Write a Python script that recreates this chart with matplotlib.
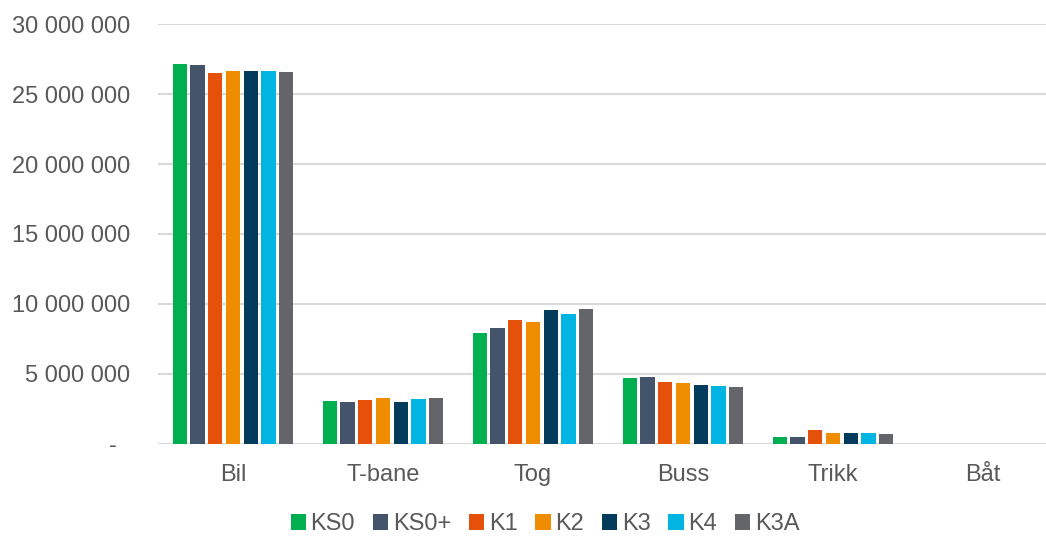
import matplotlib.pyplot as plt
import numpy as np
from matplotlib.ticker import FuncFormatter

plt.rcParams['font.family'] = ['Liberation Sans', 'DejaVu Sans']

categories = ["Bil", "T-bane", "Tog", "Buss", "Trikk", "Båt"]
scenarios = ["KS0", "KS0+", "K1", "K2", "K3", "K4", "K3A"]
colors = ["#00AF50", "#44546A", "#E5500A", "#F08C00", "#033B5C", "#00B5E2", "#63656A"]

ks0 = [27150000, 3030000, 7900000, 4720000, 470000, 0]
ks0p = [27100000, 2960000, 8250000, 4750000, 470000, 0]
k1 = [26500000, 3130000, 8830000, 4390000, 980000, 0]
k2 = [26700000, 3290000, 8710000, 4320000, 740000, 0]
k3 = [26700000, 2980000, 9570000, 4180000, 740000, 0]
k4 = [26650000, 3200000, 9260000, 4100000, 740000, 0]
k3a = [26600000, 3240000, 9660000, 4030000, 710000, 0]
series = [ks0, ks0p, k1, k2, k3, k4, k3a]

text_col = "#595959"

fig = plt.figure(figsize=(10.46, 5.36), dpi=100)
ax = fig.add_axes([158 / 1046, 92.5 / 536, 888 / 1046, 419 / 536])

x = np.arange(len(categories))
step = 0.118
for i, (name, vals, c) in enumerate(zip(scenarios, series, colors)):
    off = (i - 3) * step
    ax.bar(x + off, vals, width=0.095, color=c, label=name, zorder=3)

ax.set_xlim(-0.5, 5.42)
ax.set_ylim(0, 30000000)
ax.set_yticks(np.arange(0, 30000001, 5000000))


def fmt(v, pos):
    if v == 0:
        return "-  "
    return "{:,.0f}".format(v).replace(",", " ")


ax.yaxis.set_major_formatter(FuncFormatter(fmt))
ax.grid(axis="y", color="#D9D9D9", linewidth=1.5, zorder=0)
for s in ax.spines.values():
    s.set_visible(False)
ax.set_xticks(x)
ax.set_xticklabels(categories)
ax.tick_params(axis="both", length=0, labelsize=17, labelcolor=text_col)
ax.tick_params(axis="y", pad=20)
ax.tick_params(axis="x", pad=14.5)

fig.legend(loc="center", bbox_to_anchor=(545 / 1046, 12 / 536), ncol=7, frameon=False,
           fontsize=17, labelcolor=text_col, handlelength=0.65, handleheight=0.65,
           handletextpad=0.2, columnspacing=0.75)

fig.savefig("out.png", dpi=100)
